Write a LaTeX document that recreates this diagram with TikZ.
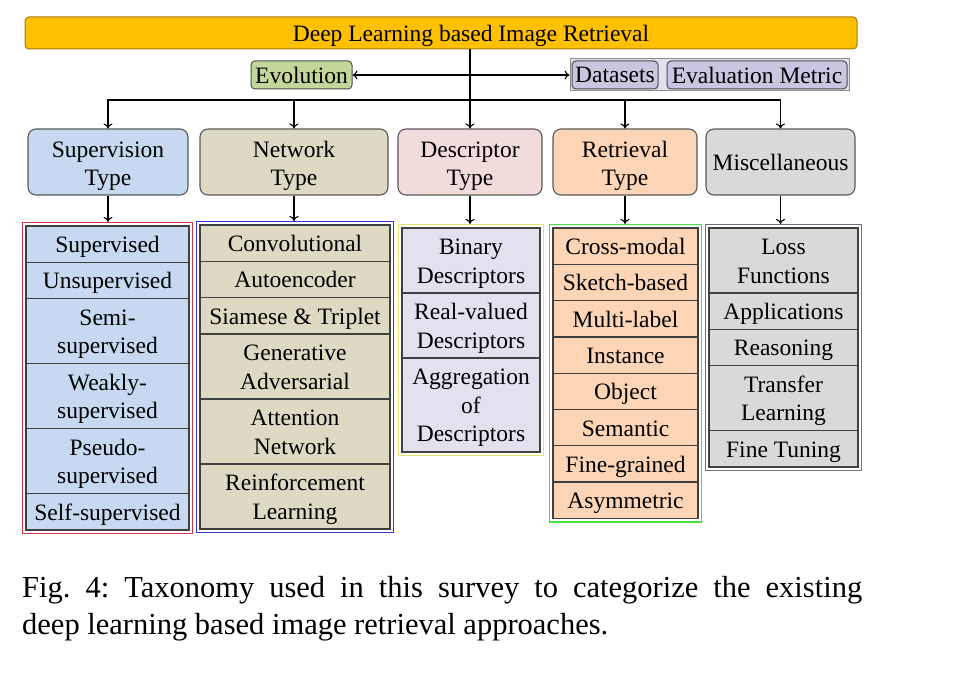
\documentclass[tikz,border=0pt]{standalone}
\usepackage{fontspec}
\setmainfont{Liberation Serif}
\usetikzlibrary{positioning,fit,backgrounds,arrows.meta}

\definecolor{titleorange}{HTML}{FFC000}
\definecolor{titleborder}{HTML}{A07A10}
\definecolor{evolgreen}{HTML}{C4D79B}
\definecolor{datalav}{HTML}{C8C6E0}
\definecolor{datalavbg}{HTML}{E2E0EE}
\definecolor{supblue}{HTML}{C6D9F1}
\definecolor{netolive}{HTML}{DDD9C3}
\definecolor{descpink}{HTML}{F2DCDB}
\definecolor{desclav}{HTML}{E4E1EE}
\definecolor{retorange}{HTML}{FBD5B5}
\definecolor{miscgray}{HTML}{D9D9D9}
\definecolor{framered}{HTML}{D03850}
\definecolor{frameblue}{HTML}{3434D8}
\definecolor{frameyellow}{HTML}{F0E070}
\definecolor{framegreen}{HTML}{44E044}
\definecolor{framegray}{HTML}{707080}

\begin{document}
\begin{tikzpicture}[x=1pt,y=-1pt,>={To[length=5pt,width=9pt]},
		font=\fontsize{23.5}{28.5}\selectfont,
		title node/.style={rectangle,rounded corners=4pt,draw=titleborder,line width=1pt,fill=titleorange,minimum width=832pt,minimum height=32pt,inner sep=0pt,text height=22pt,text depth=5.1pt},
		tag node/.style={rectangle,rounded corners=4pt,draw=black!70,line width=1pt,minimum height=28pt,inner sep=2pt},
		type node/.style={rectangle,rounded corners=8pt,draw=black!65,line width=1.1pt,minimum height=66pt,align=center,inner sep=2pt},
		two rows/.style={text height=52.5pt,text depth=5.1pt},
		cell node/.style={rectangle,draw=black!75,line width=1.3pt,outer sep=0pt,minimum height=36.3pt,align=center,inner sep=1pt,text height=22pt,text depth=5.1pt},
		two lines/.style={minimum height=65pt,text height=50.5pt},
		three lines/.style={minimum height=94pt,text height=79pt},
		sup cell/.style={cell node,fill=supblue,minimum width=163pt},
		net cell/.style={cell node,fill=netolive,minimum width=190pt},
		desc cell/.style={cell node,fill=desclav,minimum width=138pt},
		ret cell/.style={cell node,fill=retorange,minimum width=145pt},
		misc cell/.style={cell node,fill=miscgray,minimum width=149pt},
		frame node/.style={rectangle,line width=1.2pt,inner sep=3.5pt},
		link/.style={line width=1.1pt}]
	\useasboundingbox (0,0) rectangle (960,674);
	\node[title node] (0) at (441,33) {\hspace*{60pt}Deep Learning based Image Retrieval};
	\node[tag node,fill=evolgreen,minimum width=101pt] (6) at (301.5,75) {Evolution};
	\node[tag node,fill=datalav,minimum width=86pt] (7) at (615,75) {Datasets};
	\node[tag node,fill=datalav,minimum width=180pt] (8) [right=8pt of 7] {Evaluation Metric};
	\begin{scope}[on background layer]
		\node[rectangle,draw=black!45,fill=datalavbg,line width=1pt,inner sep=1.5pt,fit=(7)(8)] (9) {};
	\end{scope}
	%
	% The five kinds of approaches.
	\node[type node,two rows,fill=supblue,minimum width=160pt] (1) at (108,162) {Supervision\\Type};
	\node[type node,two rows,fill=netolive,minimum width=188pt] (2) at (294,162) {Network\\Type};
	\node[type node,two rows,fill=descpink,minimum width=144pt] (3) at (470,162) {Descriptor\\Type};
	\node[type node,two rows,fill=retorange,minimum width=144pt] (4) at (625,162) {Retrieval\\Type};
	\node[type node,fill=miscgray,minimum width=149pt] (5) at (780.5,162) {Miscellaneous};
	%
	% Supervision column.
	\node[sup cell,anchor=north] (10) at (107.5,226) {Supervised};
	\node[sup cell] (11) [below=0pt of 10] {Unsupervised};
	\node[sup cell,two lines] (12) [below=0pt of 11] {Semi-\\supervised};
	\node[sup cell,two lines] (13) [below=0pt of 12] {Weakly-\\supervised};
	\node[sup cell,two lines] (14) [below=0pt of 13] {Pseudo-\\supervised};
	\node[sup cell] (15) [below=0pt of 14] {Self-supervised};
	\node[frame node,draw=framered,fit=(10)(15)] (19) {};
	%
	% Network column.
	\node[net cell,anchor=north] (20) at (295,225) {Convolutional};
	\node[net cell] (21) [below=0pt of 20] {Autoencoder};
	\node[net cell] (22) [below=0pt of 21] {Siamese \& Triplet};
	\node[net cell,two lines] (23) [below=0pt of 22] {Generative\\Adversarial};
	\node[net cell,two lines] (24) [below=0pt of 23] {Attention\\Network};
	\node[net cell,two lines] (25) [below=0pt of 24] {Reinforcement\\Learning};
	\node[frame node,draw=frameblue,fit=(20)(25)] (29) {};
	%
	% Descriptor column.
	\node[desc cell,two lines,anchor=north] (30) at (471,228) {Binary\\Descriptors};
	\node[desc cell,two lines] (31) [below=0pt of 30] {Real-valued\\Descriptors};
	\node[desc cell,three lines] (32) [below=0pt of 31] {Aggregation\\of\\Descriptors};
	\node[frame node,draw=frameyellow,fit=(30)(32)] (39) {};
	%
	% Retrieval column.
	\node[ret cell,anchor=north] (40) at (625.5,228) {Cross-modal};
	\node[ret cell] (41) [below=0pt of 40] {Sketch-based};
	\node[ret cell] (42) [below=0pt of 41] {Multi-label};
	\node[ret cell] (43) [below=0pt of 42] {Instance};
	\node[ret cell] (44) [below=0pt of 43] {Object};
	\node[ret cell] (45) [below=0pt of 44] {Semantic};
	\node[ret cell] (46) [below=0pt of 45] {Fine-grained};
	\node[ret cell] (47) [below=0pt of 46] {Asymmetric};
	\node[frame node,draw=framegreen,fit=(40)(47)] (49) {};
	%
	% Miscellaneous column.
	\node[misc cell,two lines,anchor=north] (50) at (783.5,228) {Loss\\Functions};
	\node[misc cell] (51) [below=0pt of 50] {Applications};
	\node[misc cell] (52) [below=0pt of 51] {Reasoning};
	\node[misc cell,two lines] (53) [below=0pt of 52] {Transfer\\Learning};
	\node[misc cell] (54) [below=0pt of 53] {Fine Tuning};
	\node[frame node,draw=framegray,fit=(50)(54)] (59) {};
	%
	% Lines from the title down to the five kinds.
	\coordinate (98) at (0,100);
	\draw[link,<->] (6) -- (9);
	\draw[link,->] (0.south -| 3.north) -- (3.north);
	\draw[link,<->] (1.north) -- (1.north |- 98) -- (5.north |- 98) -- (5.north);
	\draw[link,->] (2.north |- 98) -- (2.north);
	\draw[link,->] (4.north |- 98) -- (4.north);
	%
	% Lines from each kind to its column.
	\draw[link,->] (1.south) -- (1.south |- 19.north);
	\draw[link,->] (2.south) -- (2.south |- 29.north);
	\draw[link,->] (3.south) -- (3.south |- 39.north);
	\draw[link,->] (4.south) -- (4.south |- 49.north);
	\draw[link,->] (5.south) -- (5.south |- 59.north);
	%
	% Caption.
	\node[anchor=north west,text width=840pt,align=justify,inner sep=0pt,
		font=\fontsize{30.5}{37}\selectfont\frenchspacing] (100) at (22,576)
		{Fig.\ 4: Taxonomy used in this survey to categorize the existing\linebreak deep learning based image retrieval approaches.};
\end{tikzpicture}
\end{document}
